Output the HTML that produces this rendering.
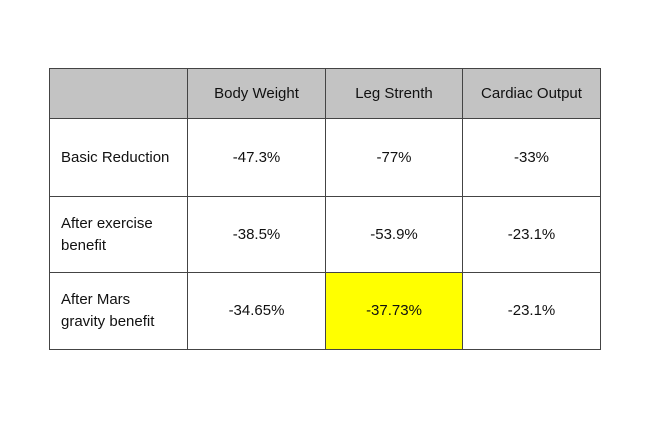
<!DOCTYPE html>
<html><head><meta charset="utf-8"><style>
body{margin:0;width:648px;height:432px;background:#fff;position:relative;overflow:hidden;font-family:"Liberation Sans",sans-serif;font-size:15px;color:#111}
.c{position:absolute;box-sizing:border-box;border:1px solid #444;display:flex;align-items:center;justify-content:center;text-align:center;line-height:22px}
.l{justify-content:flex-start;text-align:left;padding-left:11px}
.h{background:#c3c3c3}
.y{background:#ffff00}
</style></head><body>
<div>
<div class="c h" style="left:49px;top:68px;width:139px;height:51px"></div>
<div class="c h" style="left:187px;top:68px;width:139px;height:51px">Body Weight</div>
<div class="c h" style="left:325px;top:68px;width:138px;height:51px">Leg Strenth</div>
<div class="c h" style="left:462px;top:68px;width:139px;height:51px">Cardiac Output</div>

<div class="c l" style="left:49px;top:118px;width:139px;height:79px">Basic Reduction</div>
<div class="c" style="left:187px;top:118px;width:139px;height:79px">-47.3%</div>
<div class="c" style="left:325px;top:118px;width:138px;height:79px">-77%</div>
<div class="c" style="left:462px;top:118px;width:139px;height:79px">-33%</div>

<div class="c l" style="left:49px;top:196px;width:139px;height:77px">After exercise<br>benefit</div>
<div class="c" style="left:187px;top:196px;width:139px;height:77px">-38.5%</div>
<div class="c" style="left:325px;top:196px;width:138px;height:77px">-53.9%</div>
<div class="c" style="left:462px;top:196px;width:139px;height:77px">-23.1%</div>

<div class="c l" style="left:49px;top:272px;width:139px;height:78px">After Mars<br>gravity benefit</div>
<div class="c" style="left:187px;top:272px;width:139px;height:78px">-34.65%</div>
<div class="c y" style="left:325px;top:272px;width:138px;height:78px">-37.73%</div>
<div class="c" style="left:462px;top:272px;width:139px;height:78px">-23.1%</div>
</div>
</body></html>
